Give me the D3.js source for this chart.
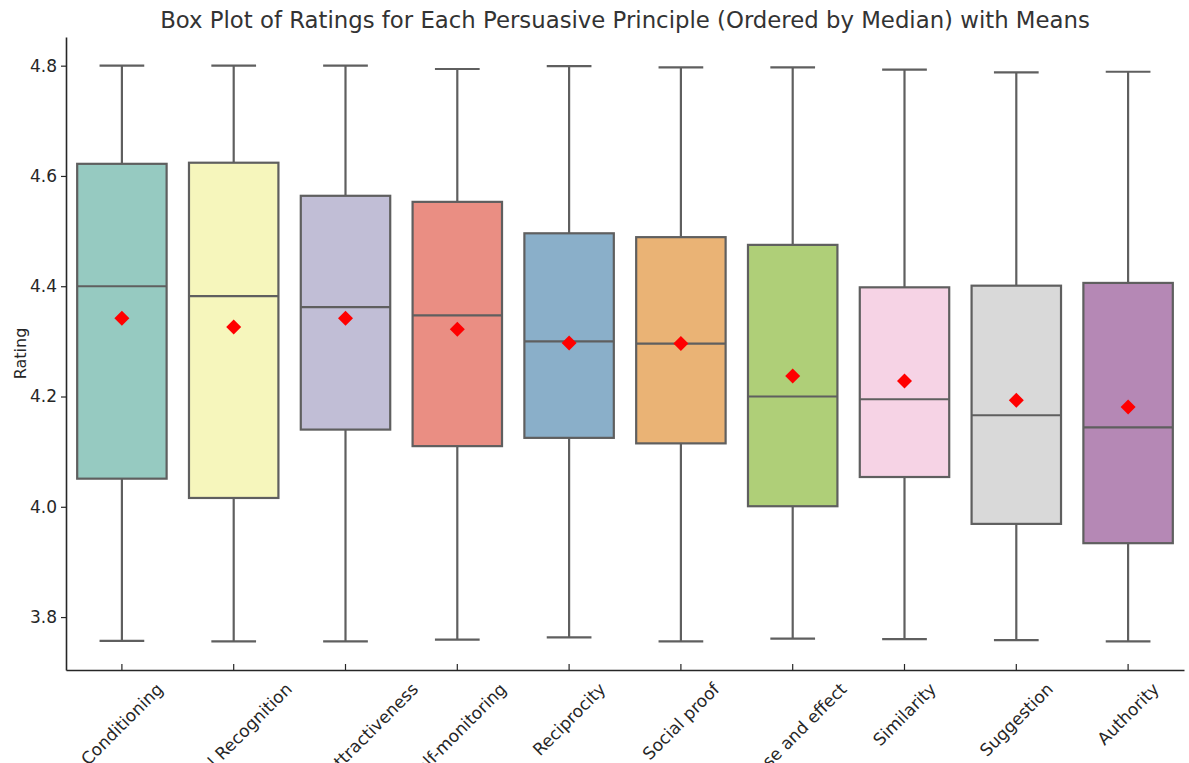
<!DOCTYPE html>
<html>
<head>
<meta charset="utf-8">
<script src="https://cdn.jsdelivr.net/npm/d3@7"></script>
<style>
  html, body { margin: 0; padding: 0; background: #fff; }
  svg { display: block; font-family: "DejaVu Sans", sans-serif; }
</style>
</head>
<body>
<svg id="chart" width="1189" height="763"></svg>
<script>
// Persuasive principles, ordered by median rating
const principles = ["Conditioning", "Social Recognition", "Physical Attractiveness", "Self-monitoring",
  "Reciprocity", "Social proof", "Cause and effect", "Similarity", "Suggestion", "Authority"];

// Five-number summaries and means per principle
const whiskerLow  = [3.757, 3.756, 3.756, 3.759, 3.763, 3.756, 3.761, 3.760, 3.758, 3.756];
const quartile1   = [4.051, 4.016, 4.140, 4.110, 4.125, 4.115, 4.001, 4.054, 3.969, 3.934];
const medians     = [4.400, 4.382, 4.362, 4.347, 4.300, 4.296, 4.200, 4.195, 4.166, 4.144];
const quartile3   = [4.622, 4.624, 4.564, 4.553, 4.496, 4.489, 4.475, 4.398, 4.401, 4.406];
const whiskerHigh = [4.800, 4.800, 4.800, 4.794, 4.799, 4.797, 4.797, 4.793, 4.788, 4.789];
const means       = [4.342, 4.326, 4.342, 4.322, 4.297, 4.296, 4.237, 4.228, 4.193, 4.181];

const yTicks = [3.8, 4.0, 4.2, 4.4, 4.6, 4.8];

// Set3 qualitative palette, desaturated as seaborn does for box fills
const palette = ["#8dd3c7", "#ffffb3", "#bebada", "#fb8072", "#80b1d3",
                 "#fdb462", "#b3de69", "#fccde5", "#d9d9d9", "#bc80bd"];
const desat = c => { const h = d3.hsl(c); h.s *= 0.75; return h.formatHex(); };

const rows = principles.map((name, i) => ({
  name, lo: whiskerLow[i], q1: quartile1[i], med: medians[i],
  q3: quartile3[i], hi: whiskerHigh[i], mean: means[i], color: desat(palette[i])
}));

const svg = d3.select("#chart");
const plotLeft = 66, plotRight = 1184, plotTop = 37, plotBottom = 670;
const ink = "#262626", edge = "#5f5f5f";

const x = d3.scaleBand().domain(principles).range([plotLeft, plotRight]).padding(0);
const y = d3.scaleLinear().domain([3.704, 4.852]).range([plotBottom, plotTop]);
const boxW = x.bandwidth() * 0.8;
const cx = d => x(d.name) + x.bandwidth() / 2;

// Title
svg.append("text")
  .attr("x", (plotLeft + plotRight) / 2).attr("y", 28)
  .attr("text-anchor", "middle")
  .attr("font-size", 22.8).attr("fill", "#333")
  .text("Box Plot of Ratings for Each Persuasive Principle (Ordered by Median) with Means");

// Boxes
const g = svg.append("g");
const box = g.selectAll("g.box").data(rows).join("g").attr("class", "box");

// whiskers
box.append("line")
  .attr("x1", cx).attr("x2", cx)
  .attr("y1", d => y(d.q3)).attr("y2", d => y(d.hi))
  .attr("stroke", edge).attr("stroke-width", 2.2);
box.append("line")
  .attr("x1", cx).attr("x2", cx)
  .attr("y1", d => y(d.q1)).attr("y2", d => y(d.lo))
  .attr("stroke", edge).attr("stroke-width", 2.2);
// caps
["hi", "lo"].forEach(k => {
  box.append("line")
    .attr("x1", d => cx(d) - boxW / 4).attr("x2", d => cx(d) + boxW / 4)
    .attr("y1", d => y(d[k])).attr("y2", d => y(d[k]))
    .attr("stroke", edge).attr("stroke-width", 2.2);
});
// IQR box
box.append("rect")
  .attr("x", d => cx(d) - boxW / 2).attr("width", boxW)
  .attr("y", d => y(d.q3)).attr("height", d => y(d.q1) - y(d.q3))
  .attr("fill", d => d.color)
  .attr("stroke", edge).attr("stroke-width", 2.2);
// median
box.append("line")
  .attr("x1", d => cx(d) - boxW / 2).attr("x2", d => cx(d) + boxW / 2)
  .attr("y1", d => y(d.med)).attr("y2", d => y(d.med))
  .attr("stroke", edge).attr("stroke-width", 2.2);
// mean markers (diamonds)
const dm = 7.5;
box.append("path")
  .attr("d", d => {
    const px = cx(d), py = y(d.mean);
    return `M${px},${py - dm}L${px + dm},${py}L${px},${py + dm}L${px - dm},${py}Z`;
  })
  .attr("fill", "#ff0000");

// Y axis
const yAxis = svg.append("g")
  .attr("transform", `translate(${plotLeft},0)`)
  .call(d3.axisLeft(y).tickValues(yTicks).tickFormat(d3.format(".1f"))
    .tickSize(5).tickSizeOuter(0).tickPadding(4));
yAxis.select(".domain").attr("stroke", ink).attr("stroke-width", 1.6);
yAxis.selectAll(".tick line").attr("stroke", ink).attr("stroke-width", 1.2);
yAxis.selectAll(".tick text").attr("font-size", 17).attr("fill", ink)
  .attr("font-family", "DejaVu Sans");

// X axis (ticks point into the plot)
const xAxis = svg.append("g")
  .attr("transform", `translate(0,${plotBottom})`)
  .call(d3.axisBottom(x).tickSize(-6).tickSizeOuter(0).tickFormat(""));
xAxis.select(".domain").attr("stroke", ink).attr("stroke-width", 1.6);
xAxis.selectAll(".tick line").attr("stroke", ink).attr("stroke-width", 1.2);

// Rotated category labels: bounding box centered under each tick
const fs = 17;
const labels = svg.append("g").selectAll("text").data(principles).join("text")
  .attr("font-size", fs).attr("fill", ink)
  .attr("text-anchor", "middle").attr("dominant-baseline", "central")
  .text(d => d);
labels.each(function(d) {
  const L = this.getComputedTextLength();
  const h = fs * 1.0;
  const half = (L + h) * Math.SQRT1_2 / 2;
  const px = x(d) + x.bandwidth() / 2;
  const py = plotBottom + 10 + half;
  d3.select(this).attr("transform", `translate(${px},${py}) rotate(-45)`);
});

// Y axis title
svg.append("text")
  .attr("transform", `translate(20,${(plotTop + plotBottom) / 2}) rotate(-90)`)
  .attr("text-anchor", "middle").attr("dominant-baseline", "central")
  .attr("font-size", 16).attr("fill", ink)
  .text("Rating");
</script>
</body>
</html>
